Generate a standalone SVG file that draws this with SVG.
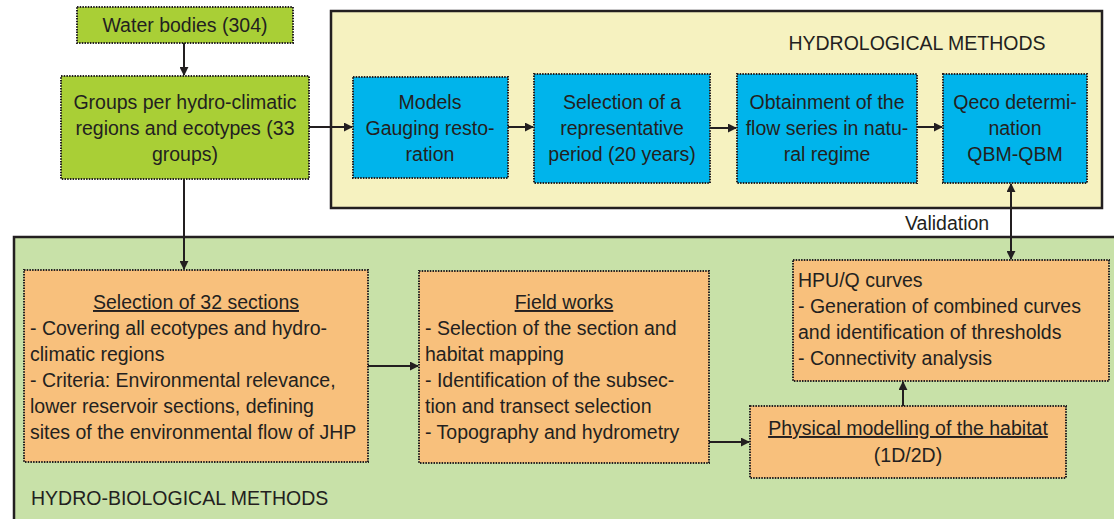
<svg xmlns="http://www.w3.org/2000/svg" width="1114" height="519" viewBox="0 0 1114 519">
<defs>
<marker id="ah" viewBox="0 0 10 10" refX="9" refY="5" markerWidth="4.5" markerHeight="4.5" orient="auto-start-reverse" markerUnits="strokeWidth">
<path d="M0,0 L10,5 L0,10 z" fill="#231f20"/>
</marker>
<style>
text{font-family:"Liberation Sans",Arial,sans-serif;font-size:19.5px;fill:#231f20}
.c{text-anchor:middle}
.u{text-decoration:underline}
.box{stroke:#231f20;stroke-width:2;stroke-dasharray:1.5 1.2}
.g{fill:#a9cf36}
.b{fill:#00b4eb}
.o{fill:#f8c07c}
.cont{stroke:#231f20;stroke-width:2.5}
.ln{stroke:#231f20;stroke-width:2;fill:none;marker-end:url(#ah)}
</style>
</defs>
<rect width="1114" height="519" fill="#ffffff"/>
<g id="hydrological-methods">
<rect class="cont" x="331" y="11" width="771" height="197" fill="#f6f2c0"/>
<text class="c" x="917" y="50">HYDROLOGICAL METHODS</text>
</g>
<g id="hydro-biological-methods">
<rect class="cont" x="14" y="237" width="1110" height="300" fill="#c8e1a8"/>
<text x="31" y="505">HYDRO-BIOLOGICAL METHODS</text>
</g>
<g id="water-bodies">
<rect class="box g" x="77" y="7" width="216" height="36"/>
<text class="c" x="185" y="32">Water bodies (304)</text>
</g>
<g id="groups">
<rect class="box g" x="61" y="76" width="248" height="103"/>
<text class="c" x="185" y="109">Groups per hydro-climatic</text>
<text class="c" x="185" y="135">regions and ecotypes (33</text>
<text class="c" x="185" y="161">groups)</text>
</g>
<g id="models">
<rect class="box b" x="353" y="77" width="155" height="101"/>
<text class="c" x="430" y="109">Models</text>
<text class="c" x="430" y="135">Gauging resto-</text>
<text class="c" x="430" y="161">ration</text>
</g>
<g id="selection-period">
<rect class="box b" x="534" y="74" width="176" height="109"/>
<text class="c" x="622" y="109">Selection of a</text>
<text class="c" x="622" y="135">representative</text>
<text class="c" x="622" y="161">period (20 years)</text>
</g>
<g id="obtainment">
<rect class="box b" x="737" y="74" width="180" height="109"/>
<text class="c" x="827" y="109">Obtainment of the</text>
<text class="c" x="827" y="135">flow series in natu-</text>
<text class="c" x="827" y="161">ral regime</text>
</g>
<g id="qeco">
<rect class="box b" x="943" y="74" width="144" height="109"/>
<text class="c" x="1015" y="109">Qeco determi-</text>
<text class="c" x="1015" y="135">nation</text>
<text class="c" x="1015" y="161">QBM-QBM</text>
</g>
<g id="selection-sections">
<rect class="box o" x="24" y="270" width="344" height="192"/>
<text class="c u" x="196" y="309">Selection of 32 sections</text>
<text x="30" y="335">- Covering all ecotypes and hydro-</text>
<text x="30" y="361">climatic regions</text>
<text x="30" y="387">- Criteria: Environmental relevance,</text>
<text x="30" y="413">lower reservoir sections, defining</text>
<text x="30" y="439">sites of the environmental flow of JHP</text>
</g>
<g id="field-works">
<rect class="box o" x="419" y="271" width="290" height="192"/>
<text class="c u" x="564" y="309">Field works</text>
<text x="425" y="335">- Selection of the section and</text>
<text x="425" y="361">habitat mapping</text>
<text x="425" y="387">- Identification of the subsec-</text>
<text x="425" y="413">tion and transect selection</text>
<text x="425" y="439">- Topography and hydrometry</text>
</g>
<g id="physical-modelling">
<rect class="box o" x="750" y="406" width="316" height="72"/>
<text class="c u" x="908" y="435">Physical modelling of the habitat</text>
<text class="c" x="908" y="462">(1D/2D)</text>
</g>
<g id="hpu-curves">
<rect class="box o" x="793" y="260" width="316" height="121"/>
<text x="798" y="287">HPU/Q curves</text>
<text x="798" y="313">- Generation of combined curves</text>
<text x="798" y="339">and identification of thresholds</text>
<text x="798" y="365">- Connectivity analysis</text>
</g>
<g id="validation-label">
<text x="905" y="230">Validation</text>
</g>
<g id="connectors">
<line class="ln" x1="184" y1="43" x2="184" y2="75"/>
<line class="ln" x1="309" y1="127" x2="352" y2="127"/>
<line class="ln" x1="508" y1="127" x2="533" y2="127"/>
<line class="ln" x1="710" y1="128" x2="736" y2="128"/>
<line class="ln" x1="917" y1="127" x2="942" y2="127"/>
<line class="ln" x1="184" y1="179" x2="184" y2="269"/>
<line class="ln" x1="368" y1="366" x2="418" y2="366"/>
<line class="ln" x1="709" y1="442" x2="749" y2="442"/>
<line class="ln" x1="903" y1="406" x2="903" y2="382"/>
<line class="ln" x1="1011" y1="184" x2="1011" y2="259" style="marker-start:url(#ah)"/>
</g>
</svg>
